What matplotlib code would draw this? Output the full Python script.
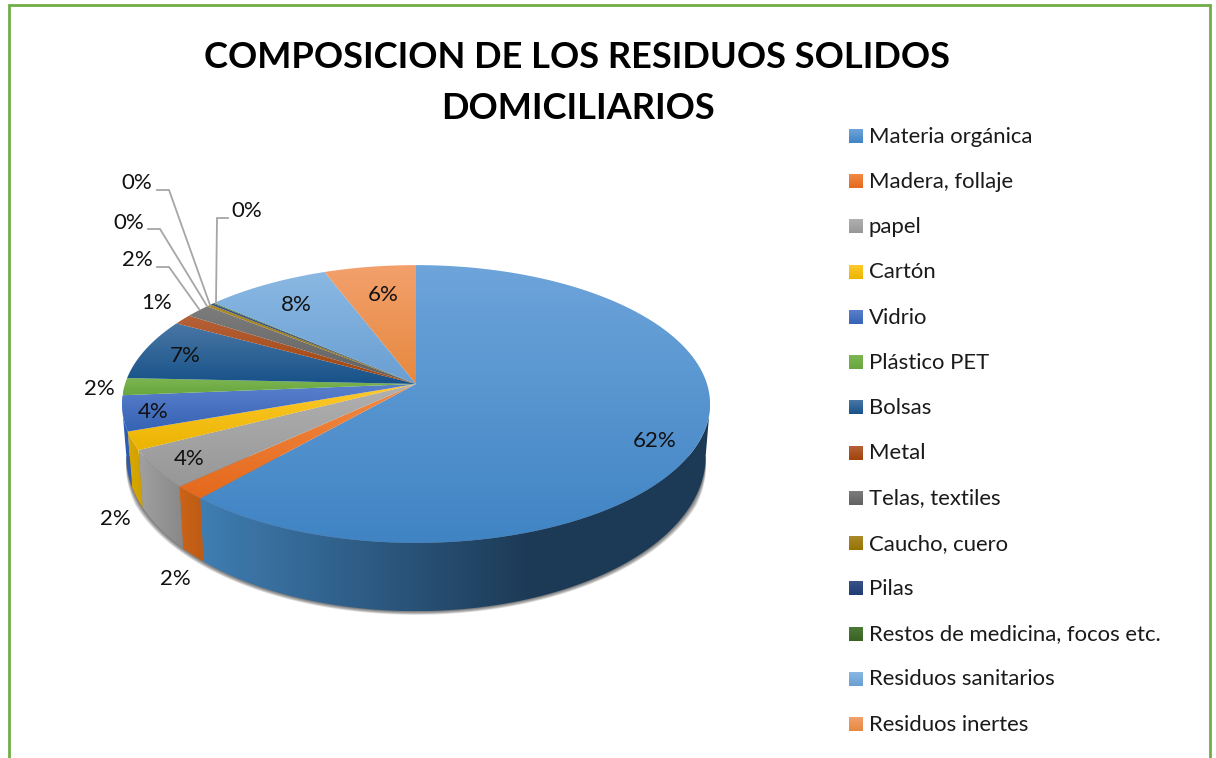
import numpy as np
from matplotlib import pyplot as plt
from matplotlib.colors import to_rgb
from matplotlib.path import Path

plt.rcParams['font.family'] = ['Lato', 'DejaVu Sans']

title = "COMPOSICION DE LOS RESIDUOS SOLIDOS\nDOMICILIARIOS"
categories = ["Materia orgánica", "Madera, follaje", "papel", "Cartón", "Vidrio",
              "Plástico PET", "Bolsas", "Metal", "Telas, textiles", "Caucho, cuero",
              "Pilas", "Restos de medicina, focos etc.", "Residuos sanitarios",
              "Residuos inertes"]
values = [61.5, 1.6, 4.4, 2.1, 4.1, 2.0, 7.2, 1.2, 1.6, 0.3, 0.2, 0.1, 7.9, 5.8]

# top face colours, light to dark
top_colors = [("#6DA4DA", "#4084C4"), ("#F28A45", "#E4691C"), ("#B0B0B0", "#979797"),
              ("#FFC92E", "#EBB400"), ("#5A80CC", "#3562B4"), ("#7DB653", "#68A63E"),
              ("#4A77A6", "#175288"), ("#B5613A", "#A14309"), ("#7C7C7C", "#616161"),
              ("#A98A2C", "#987300"), ("#3A5288", "#1F3C74"), ("#4C7A38", "#396222"),
              ("#8AB8E2", "#6A9FD3"), ("#F3A06C", "#E6893F")]
# side wall colours, left to right
side_colors = [("#3F7DB2", "#1C3A56"), ("#CC6418", "#BC5A14"), ("#A0A0A0", "#888888"),
               ("#D9A800", "#CFA000"), ("#2F5FB4", "#2C58A8"), ("#5F9438", "#5F9438"),
               ("#14466F", "#14466F"), ("#8A3A08", "#8A3A08"), ("#555555", "#555555"),
               ("#806000", "#806000"), ("#1A3060", "#1A3060"), ("#305020", "#305020"),
               ("#5A8AB8", "#5A8AB8"), ("#C87838", "#C87838")]

W, H = 1216, 758
fig = plt.figure(figsize=(W / 100, H / 100), dpi=100)
ax = fig.add_axes([0, 0, 1, 1])

cx, cy = 416, 384
rad_x, rad_y, persp = 291, 136, 0.144
drop, grow = 50, 0.115
front_a, back_a = np.radians(98.3), np.radians(261.7)


def rim(a):
    d = 1 + persp * np.cos(a)
    return cx + rad_x * np.sin(a) / d, cy - rad_y * np.cos(a) / d


def low_rim(a):
    x, y = rim(a)
    return cx + (x - cx) * 0.985, y + drop + (y - cy) * grow


def gradient(xs, ys, c1, c2, z, vertical=True, stop=1.0):
    # fill a polygon with a linear colour ramp, reaching c2 at fraction stop
    verts = np.column_stack([xs, ys])
    t = np.clip(np.linspace(0, 1, 128) / stop, 0, 1)
    col = np.outer(1 - t, to_rgb(c1)) + np.outer(t, to_rgb(c2))
    img = col[:, None, :] if vertical else col[None, :, :]
    im = ax.imshow(img, extent=(min(xs), max(xs), max(ys), min(ys)), aspect="auto",
                   interpolation="bilinear", zorder=z)
    im.set_clip_path(Path(np.vstack([verts, verts[:1]]), closed=True), ax.transData)


edges = np.radians(np.cumsum([0] + values) / sum(values) * 360)

# soft shadow under the wall, fading out towards the two ends
a = np.linspace(front_a, back_a, 200)
lx, ly = low_rim(a)
lcy = 434
taper = np.clip(np.minimum(a - front_a, back_a - a) / 0.3, 0, 1)
for i in range(5, 0, -1):
    sx = lx + (lx - cx) * i / 289 * taper
    sy = ly + (ly - lcy) * i * 0.7 / 170 * taper
    ax.fill(sx, sy, color="black", alpha=0.13, lw=0, zorder=1)

# side walls
for i in range(len(values)):
    a0, a1 = max(edges[i], front_a), min(edges[i + 1], back_a)
    if a1 <= a0:
        continue
    a = np.linspace(a0, a1, 150)
    tx, ty = rim(a)
    bx, by = low_rim(a)
    xs = np.concatenate([tx, bx[::-1]])
    ys = np.concatenate([ty, by[::-1]])
    # big slice goes dark two thirds of the way across, then stays dark
    stop = 0.65 if i == 0 else 1.0
    gradient(xs, ys, side_colors[i][0], side_colors[i][1], 2, vertical=False, stop=stop)

# top face
for i in range(len(values)):
    a = np.linspace(edges[i], edges[i + 1], max(3, int((edges[i + 1] - edges[i]) * 120)))
    tx, ty = rim(a)
    xs = np.concatenate([[cx], tx])
    ys = np.concatenate([[cy], ty])
    gradient(xs, ys, top_colors[i][0], top_colors[i][1], 3)

# data labels, with leader lines for the thin slices
label_pos = [(655, 441), (175, 579), (189, 459), (115, 519), (153, 412), (99, 389),
             (185, 356), (157, 303), (137, 260), (129, 223), (137, 183), (247, 211),
             (296, 305), (383, 295)]
for v, (x, y) in zip(values, label_pos):
    ax.text(x, y, f"{v:.0f}%", fontsize=16, color="#111111", ha="center", va="center",
            zorder=5)

leaders = [([157, 169, 199], [267, 267, 309]),
           ([148, 160, 207], [229, 229, 306]),
           ([157, 169, 210], [190, 190, 305]),
           ([228, 217, 216], [218, 218, 303])]
for xs, ys in leaders:
    ax.plot(xs, ys, color="#A6A6A6", lw=1.3, solid_joinstyle="miter", zorder=4)

ax.text(577.5, 83, title, fontsize=26.1, fontweight="bold", color="black",
        ha="center", va="center", linespacing=1.66, zorder=5)

# legend
for i, name in enumerate(categories):
    y = 136 + i * 45.23
    sq_x = [849, 863, 863, 849]
    sq_y = [y - 7, y - 7, y + 7, y + 7]
    gradient(sq_x, sq_y, top_colors[i][0], top_colors[i][1], 3)
    ax.text(869, y + 0.7, name, fontsize=15.9, color="#1A1A1A", ha="left", va="center", zorder=5)

# green frame, open at the bottom
ax.plot([8.7, 8.7, 1210, 1210], [H + 5, 4.7, 4.7, H + 5], color="#70AD47", lw=2,
        solid_joinstyle="miter", zorder=5)

ax.set_xlim(0, W)
ax.set_ylim(H, 0)
ax.axis("off")
fig.savefig("out.png", dpi=100, facecolor="white")
